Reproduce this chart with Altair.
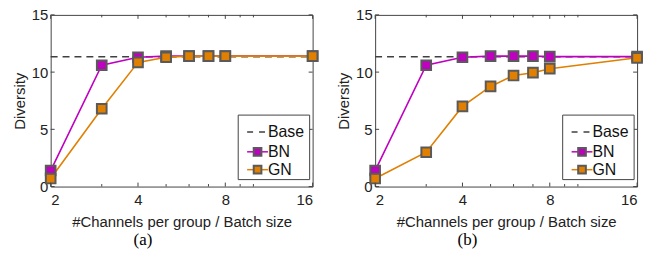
import altair as alt
import pandas as pd

# ---- data ----
x_vals = [2, 3, 4, 5, 6, 7, 8, 16]
bn_a = [1.4, 10.6, 11.3, 11.4, 11.4, 11.4, 11.4, 11.4]
gn_a = [0.7, 6.8, 10.85, 11.3, 11.4, 11.4, 11.4, 11.4]
bn_b = [1.4, 10.6, 11.3, 11.4, 11.4, 11.4, 11.35, 11.35]
gn_b = [0.7, 3.0, 7.0, 8.75, 9.7, 9.95, 10.3, 11.25]
base_val = 11.35
x_major = [2, 4, 8, 16]
x_minor = [3, 5, 6, 7, 9, 10]
y_major = [0, 5, 10, 15]
series = ["BN", "GN"]
legend_labels = ["Base", "BN", "GN"]
panel_labels = ["(a)", "(b)"]

# ---- styling ----
W, H = 264, 173
MAG = "#C000C0"
ORG = "#E07F00"
EDGE = "#5A5A5A"
AXC = "#444444"
FONT = "Liberation Sans"
FS = 15


def panel(bn, gn, label):
    df = pd.DataFrame({
        "x": x_vals * 2,
        "y": bn + gn,
        "s": [series[0]] * len(x_vals) + [series[1]] * len(x_vals),
    })
    xenc = alt.X(
        "x:Q",
        scale=alt.Scale(type="log", base=2, domain=[2, 16], nice=False),
        axis=alt.Axis(values=x_major, format="d", title="#Channels per group / Batch size",
                      ticks=False, domain=False, grid=False, labelPadding=6,
                      titlePadding=7),
    )
    yenc = alt.Y(
        "y:Q",
        scale=alt.Scale(domain=[0, 15], nice=False, zero=False),
        axis=alt.Axis(values=y_major, title="Diversity", ticks=False, domain=False,
                      grid=False, labelPadding=3, titlePadding=4),
    )
    cscale = alt.Scale(domain=series, range=[MAG, ORG])

    base = alt.Chart(pd.DataFrame({"y": [base_val]})).mark_rule(
        color="#404040", strokeWidth=1.5, strokeDash=[7, 5]
    ).encode(y="y:Q", x=alt.value(0), x2=alt.value(W))

    lines = alt.Chart(df).mark_line(strokeWidth=1.6).encode(
        x=xenc, y=yenc, color=alt.Color("s:N", scale=cscale, legend=None),
        order=alt.Order("x:Q"),
    )
    pts = alt.Chart(df).mark_point(
        shape="square", size=95, filled=True, stroke=EDGE, strokeWidth=2, opacity=1
    ).encode(
        x="x:Q", y="y:Q", fill=alt.Fill("s:N", scale=cscale, legend=None),
        order=alt.Order("s:N"),
    )

    # inward ticks
    tdf_major = pd.DataFrame({"x": x_major})
    tdf_minor = pd.DataFrame({"x": x_minor})
    ydf = pd.DataFrame({"y": y_major})
    tick_style = dict(color=AXC, strokeWidth=1)
    tb = alt.Chart(tdf_major).mark_rule(**tick_style).encode(x="x:Q", y=alt.value(H), y2=alt.value(H - 4))
    tt = alt.Chart(tdf_major).mark_rule(**tick_style).encode(x="x:Q", y=alt.value(0), y2=alt.value(4))
    mb = alt.Chart(tdf_minor).mark_rule(**tick_style).encode(x="x:Q", y=alt.value(H), y2=alt.value(H - 2.5))
    mt = alt.Chart(tdf_minor).mark_rule(**tick_style).encode(x="x:Q", y=alt.value(0), y2=alt.value(2.5))
    tl = alt.Chart(ydf).mark_rule(**tick_style).encode(y="y:Q", x=alt.value(0), x2=alt.value(4))
    tr = alt.Chart(ydf).mark_rule(**tick_style).encode(y="y:Q", x=alt.value(W), x2=alt.value(W - 4))

    # legend box
    bx0, bx1 = 189, 261
    by1 = H - 7
    by0 = by1 - 65
    rows = [by1 - 48, by1 - 28, by1 - 10]
    leg = [
        alt.Chart(pd.DataFrame({"a": [0]})).mark_rect(fill="white", stroke=AXC, strokeWidth=1).encode(
            x=alt.value(bx0), x2=alt.value(bx1), y=alt.value(by0), y2=alt.value(by1)
        )
    ]
    colors = ["#404040", MAG, ORG]
    for i, (lab, col) in enumerate(zip(legend_labels, colors)):
        ldf = pd.DataFrame({"t": [lab]})
        if i == 0:
            leg.append(alt.Chart(ldf).mark_rule(color=col, strokeWidth=1.5, strokeDash=[6, 6]).encode(
                x=alt.value(bx0 + 9), x2=alt.value(bx0 + 30), y=alt.value(rows[i])))
        else:
            leg.append(alt.Chart(ldf).mark_rule(color=col, strokeWidth=1.5).encode(
                x=alt.value(bx0 + 9), x2=alt.value(bx0 + 30), y=alt.value(rows[i])))
            leg.append(alt.Chart(ldf).mark_point(shape="square", size=60, filled=True, fill=col,
                                                 stroke=EDGE, strokeWidth=2, opacity=1).encode(
                x=alt.value(bx0 + 19.5), y=alt.value(rows[i])))
        leg.append(alt.Chart(ldf).mark_text(align="left", baseline="middle", font=FONT, fontSize=16,
                                            color="#111111").encode(
            x=alt.value(bx0 + 30), y=alt.value(rows[i] + 0.5), text="t:N"))

    return alt.layer(base, lines, pts, tb, tt, mb, mt, tl, tr, *leg).properties(
        width=W, height=H,
        title=alt.TitleParams(label, orient="bottom", font="Liberation Serif", fontSize=17,
                              fontWeight="normal", anchor="middle", dx=-39, offset=3,
                              color="#000000"),
    )


chart = alt.hconcat(
    panel(bn_a, gn_a, panel_labels[0]),
    panel(bn_b, gn_b, panel_labels[1]),
    spacing=63, bounds="flush",
).properties(
    padding={"left": 3, "top": -2, "right": 2, "bottom": 0}
).configure_view(stroke=AXC, strokeWidth=1).configure_axis(
    labelFont=FONT, labelFontSize=FS, labelColor="#222222",
    titleFont=FONT, titleFontSize=FS, titleFontWeight="normal", titleColor="#222222",
)

chart.save("out.html", embed_options={"renderer": "svg", "actions": False})
